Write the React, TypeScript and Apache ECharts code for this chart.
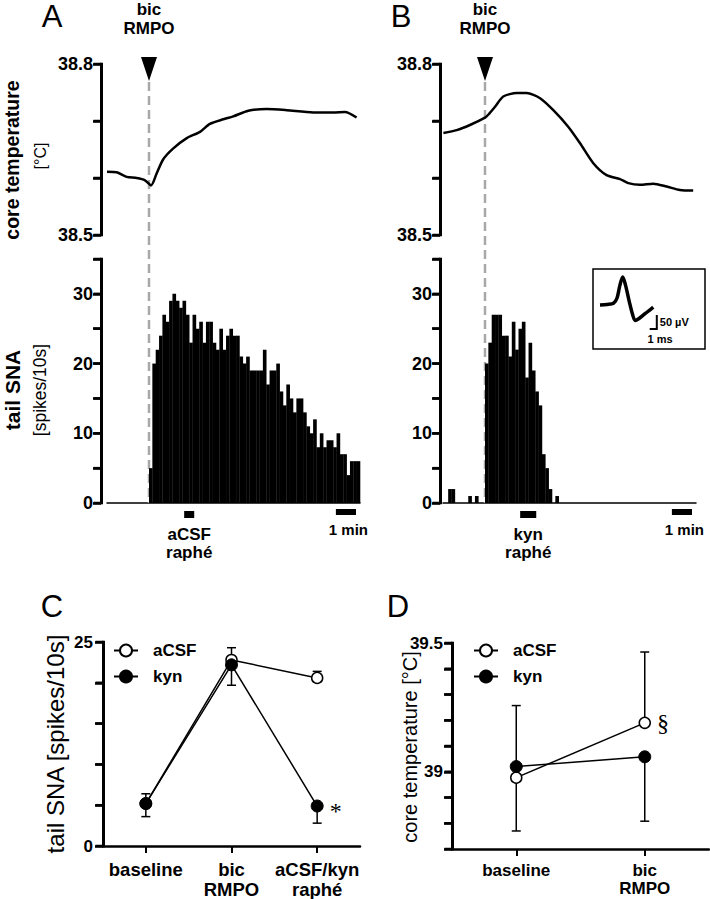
import React, { useEffect, useRef } from "react";
import * as echarts from "echarts";

// ---------- data ----------
const BIN = 1 / 6; // 10-s bins expressed in minutes
const T_MIN = -2.09;
const T_MAX = 10.5;

const histAStart = 0;
const histA = [5, 20, 22, 24, 27, 26, 29, 30, 29, 28, 29, 27, 23, 27, 25, 26, 23, 26, 26, 23, 22, 25, 22, 24, 25, 24, 24, 21, 20, 21, 19, 19, 19, 19, 22, 17, 19, 19, 20, 16, 14, 17, 15, 13, 15, 15, 13, 11, 10, 12, 8, 10, 8, 9, 9, 8, 10, 7, 7, 4, 6, 6, 6];
const histBStart = -12;
const histB = [0, 2, 2, 0, 0, 0, 0, 1, 0, 1, 0, 0, 20, 23, 27, 27, 27, 24, 24, 21, 26, 22, 25, 26, 18, 23, 19, 16, 14, 7, 5, 2, 0, 1];

const tempATime = [-2.09, -1.61, -1.11, -0.61, -0.2, 0.1, 0.38, 0.71, 1.21, 1.88, 2.54, 3.03, 3.7, 4.19, 4.94, 5.86, 6.85, 8.17, 9.17, 9.75, 10.33];
const tempAValue = [38.611, 38.61, 38.602, 38.6, 38.596, 38.587, 38.608, 38.633, 38.652, 38.67, 38.681, 38.695, 38.703, 38.708, 38.718, 38.721, 38.719, 38.715, 38.715, 38.716, 38.706];
const tempBTime = [-2.07, -1.41, -0.75, 0, 0.16, 0.5, 0.91, 1.58, 2.07, 2.74, 3.4, 4.14, 4.73, 5.39, 6.05, 6.72, 7.13, 7.71, 8.37, 9.04, 9.7, 10.36];
const tempBValue = [38.679, 38.684, 38.693, 38.706, 38.711, 38.725, 38.743, 38.749, 38.749, 38.74, 38.719, 38.69, 38.661, 38.626, 38.605, 38.598, 38.591, 38.588, 38.59, 38.585, 38.579, 38.578];

const injA = [1.75, 2.25];
const injB = [1.75, 2.55];
const oneMin = [9.3, 10.3];

const waveTime = [0, 1.0, 1.9, 2.4, 2.8, 3.2, 3.6, 4.1, 4.6, 4.95, 5.5, 6.3, 7.0, 7.5];
const waveVolt = [0, 2, 6, 25, 70, 100, 70, 15, -35, -55, -48, -32, -18, -8];

const tempTicks = ["38.5", "38.8"];
const snaTicks = ["0", "10", "20", "30"];
const snaGroupTicks = ["0", "25"];
const tcTicks = ["39", "39.5"];

const snaCats = ["baseline", "bic\nRMPO", "aCSF/kyn\nraphé"];
const snaACSF = [5.2, 22.8, 20.6];
const snaACSFErr = [1.2, 1.5, 0.8];
const snaKyn = [5.2, 22.2, 4.9];
const snaKynErr = [1.6, 2.5, 2.1];
const snaKynMarks = ["", "", "*"];

const tcCats = ["baseline", "bic\nRMPO"];
const tcACSF = [38.977, 39.19];
const tcACSFErr = [0.28, 0.275];
const tcKyn = [39.02, 39.058];
const tcKynErr = [0.25, 0.25];
const tcACSFMarks = ["", "§"];

// ---------- helpers ----------
const F = "Liberation Sans, Arial, Helvetica, sans-serif";
const SERIF = "Liberation Serif, DejaVu Serif, serif";
const AXIS_W = 3;
const TICK_W = 2.5;
const TICK_LEN = 8;

function yAxisCfg(grid: number, min: number, max: number, interval: number, offset: number, labels: string[], size: number, margin: number) {
  return {
    show: true,
    gridIndex: grid,
    type: "value",
    position: "left",
    min,
    max,
    interval,
    offset,
    axisLine: { show: true, onZero: false, lineStyle: { color: "#000", width: AXIS_W, cap: "butt" } },
    axisTick: { show: true, inside: false, length: TICK_LEN, lineStyle: { color: "#000", width: TICK_W, cap: "butt" } },
    axisLabel: {
      color: "#000",
      fontSize: size,
      fontWeight: "bold",
      fontFamily: F,
      margin,
      formatter: (v: number) => {
        const hit = labels.find((l) => Math.abs(parseFloat(l) - v) < 1e-6);
        return hit === undefined ? "" : hit;
      },
    },
    splitLine: { show: false },
  };
}

function histSeries(xi: number, values: number[], start: number) {
  return {
    type: "custom",
    name: "hist" + xi,
    xAxisIndex: xi,
    yAxisIndex: xi,
    clip: false,
    data: values.map((v, i) => [(start + i) * BIN, v]),
    renderItem: (params: any, api: any) => {
      const t = api.value(0);
      const v = api.value(1);
      if (!v) return null;
      const p0 = api.coord([t, v]);
      const p1 = api.coord([t + BIN, 0]);
      return {
        type: "rect",
        shape: { x: p0[0], y: p0[1], width: p1[0] - p0[0] + 0.3, height: p1[1] - p0[1] },
        style: { fill: "#000" },
      };
    },
    z: 3,
  };
}

function errSeries(name: string, xi: number, means: number[], errs: number[], dir: number) {
  return {
    type: "custom",
    name,
    xAxisIndex: xi,
    yAxisIndex: xi,
    clip: false,
    data: means.map((m, i) => [i, m, m + dir * errs[i]]),
    renderItem: (params: any, api: any) => {
      const p0 = api.coord([api.value(0), api.value(1)]);
      const p1 = api.coord([api.value(0), api.value(2)]);
      return {
        type: "group",
        children: [
          { type: "rect", shape: { x: p0[0] - 0.75, y: Math.min(p0[1], p1[1]), width: 1.5, height: Math.abs(p1[1] - p0[1]) }, style: { fill: "#000" } },
          { type: "line", shape: { x1: p1[0] - 4.5, y1: p1[1], x2: p1[0] + 4.5, y2: p1[1] }, style: { stroke: "#000", lineWidth: 1.5 } },
        ],
      };
    },
    z: 1,
  };
}

function groupLine(name: string, xi: number, values: number[], marks: string[] | null, open: boolean) {
  return {
    type: "line",
    name,
    xAxisIndex: xi,
    yAxisIndex: xi,
    clip: false,
    data: values.map((v, i) =>
      marks && marks[i]
        ? {
            value: v,
            label: {
              show: true,
              position: "right",
              distance: 6,
              formatter: marks[i],
              fontFamily: SERIF,
              fontSize: 24,
              color: "#000",
              offset: [0, marks[i] === "*" ? 5 : 0],
            },
          }
        : v
    ),
    symbol: "circle",
    symbolSize: open ? 11 : 12,
    showSymbol: true,
    lineStyle: { color: "#000", width: 1.5 },
    itemStyle: open ? { color: "#fff", borderColor: "#000", borderWidth: 1.5 } : { color: "#000", borderColor: "#000", borderWidth: 1 },
    z: open ? 2 : 3,
  };
}

function catXAxis(grid: number, data: string[], size: number, margin: number) {
  return {
    gridIndex: grid,
    type: "category",
    data,
    boundaryGap: true,
    axisLine: { show: true, onZero: false, lineStyle: { color: "#000", width: 2.5 } },
    axisTick: { show: true, alignWithLabel: true, length: 7, lineStyle: { color: "#000", width: 2 } },
    axisLabel: { color: "#000", fontSize: size, fontWeight: "bold", fontFamily: F, margin, lineHeight: size + 1, interval: 0 },
    splitLine: { show: false },
  };
}

function legendCfg(left: number) {
  return {
    data: ["aCSF", "kyn"],
    orient: "vertical",
    left,
    top: 642,
    padding: 0,
    itemWidth: 24,
    itemHeight: 15,
    itemGap: 9,
    selectedMode: false,
    textStyle: { color: "#000", fontSize: 17, fontWeight: "bold", fontFamily: F, padding: [0, 0, 0, 10] },
  };
}

function buildOption() {
  const zip = (a: number[], b: number[]) => a.map((v, i) => [v, b[i]]);
  const timeAxisHidden = (g: number) => ({ gridIndex: g, type: "value", min: T_MIN, max: T_MAX, show: false });
  const timeAxisBase = (g: number) => ({
    gridIndex: g,
    type: "value",
    min: T_MIN,
    max: T_MAX,
    axisLine: { show: true, onZero: false, lineStyle: { color: "#000", width: 1.5 } },
    axisTick: { show: false },
    axisLabel: { show: false },
    splitLine: { show: false },
  });
  const grid = (left: number, top: number, width: number, height: number) => ({ left, top, width, height });
  const trace = (name: string, ax: number, t: number[], v: number[], w: number, smooth: number) => ({
    type: "line",
    name,
    xAxisIndex: ax,
    yAxisIndex: ax,
    clip: false,
    data: zip(t, v),
    symbol: "none",
    smooth,
    lineStyle: { color: "#000", width: w },
  });
  return {
    animation: false,
    textStyle: { fontFamily: F, color: "#000" },
    grid: [
      grid(107, 64, 253, 171),
      grid(107, 259, 253, 244),
      grid(443, 64, 253, 171),
      grid(443, 259, 253, 244),
      grid(600, 274.2, 56.8, 56),
      grid(103, 642, 257, 204),
      grid(452, 643, 257, 206),
    ],
    xAxis: [
      timeAxisHidden(0),
      timeAxisBase(1),
      timeAxisHidden(2),
      timeAxisBase(3),
      { gridIndex: 4, type: "value", min: 0, max: 8, show: false },
      catXAxis(5, snaCats, 18.5, 14),
      catXAxis(6, tcCats, 17, 12),
    ],
    yAxis: [
      yAxisCfg(0, 38.5, 38.8, 0.1, 6, tempTicks, 18, 8),
      yAxisCfg(1, 0, 35, 5, 6, snaTicks, 18, 8),
      yAxisCfg(2, 38.5, 38.8, 0.1, 3, tempTicks, 18, 8),
      yAxisCfg(3, 0, 35, 5, 3, snaTicks, 18, 8),
      { gridIndex: 4, type: "value", min: -90, max: 110, show: false },
      yAxisCfg(5, 0, 25, 5, 0, snaGroupTicks, 17, 10),
      yAxisCfg(6, 38.7, 39.5, 0.1, 0, tcTicks, 17, 9),
    ],
    legend: [legendCfg(113), legendCfg(473)],
    series: [
      trace("tempA", 0, tempATime, tempAValue, 2.5, 0.25),
      histSeries(1, histA, histAStart),
      trace("tempB", 2, tempBTime, tempBValue, 2.5, 0.25),
      histSeries(3, histB, histBStart),
      trace("spike", 4, waveTime, waveVolt, 3.5, 0.3),
      errSeries("errC_aCSF", 5, snaACSF, snaACSFErr, 1),
      errSeries("errC_kyn", 5, snaKyn, snaKynErr, -1),
      groupLine("aCSF", 5, snaACSF, null, true),
      groupLine("kyn", 5, snaKyn, snaKynMarks, false),
      errSeries("errD_aCSF", 6, tcACSF, tcACSFErr, 1),
      errSeries("errD_kyn", 6, tcKyn, tcKynErr, -1),
      groupLine("aCSF", 6, tcACSF, tcACSFMarks, true),
      groupLine("kyn", 6, tcKyn, null, false),
    ],
  };
}

function text(t: string, x: number, y: number, size: number, weight: string, extra: any = {}) {
  return {
    type: "text",
    x,
    y,
    rotation: extra.rotation || 0,
    silent: true,
    z: 10,
    style: {
      text: t,
      fontSize: size,
      fontWeight: weight,
      fontFamily: extra.family || F,
      fill: "#000",
      align: extra.align || "center",
      verticalAlign: "middle",
      lineHeight: extra.lineHeight,
    },
  };
}

function buildGraphics(chart: any, option: any) {
  const px = (axis: number, t: number) => chart.convertToPixel({ xAxisIndex: axis }, t) as number;
  const g: any[] = [];

  // reinforce the value-axis spines (as filled bars) and ticks, at the axes' own positions
  option.yAxis.forEach((ya: any, i: number) => {
    if (ya.show === false || !ya.axisLine) return;
    const rect = chart.getModel().getComponent("grid", ya.gridIndex).coordinateSystem.getRect();
    const x = rect.x - (ya.offset || 0) + 0.5;
    const yTop = chart.convertToPixel({ yAxisIndex: i }, ya.max) as number;
    const yBot = chart.convertToPixel({ yAxisIndex: i }, ya.min) as number;
    g.push({ type: "rect", silent: true, z: 20, shape: { x: x - AXIS_W / 2, y: yTop - TICK_W / 2, width: AXIS_W, height: yBot - yTop + TICK_W }, style: { fill: "#000" } });
    const n = Math.round((ya.max - ya.min) / ya.interval);
    for (let k = 0; k <= n; k++) {
      const yy = chart.convertToPixel({ yAxisIndex: i }, ya.min + k * ya.interval) as number;
      g.push({ type: "rect", silent: true, z: 20, shape: { x: x - TICK_LEN, y: yy - TICK_W / 2, width: TICK_LEN, height: TICK_W }, style: { fill: "#000" } });
    }
  });

  const panels = [
    { x0: px(0, 0), base: chart.convertToPixel({ yAxisIndex: 1 }, 0) as number, inj: injA, injAxis: 1, label: "aCSF\nraphé" },
    { x0: px(2, 0), base: chart.convertToPixel({ yAxisIndex: 3 }, 0) as number, inj: injB, injAxis: 3, label: "kyn\nraphé" },
  ];
  panels.forEach((p) => {
    g.push({ type: "line", silent: true, z: 2, shape: { x1: p.x0, y1: 82, x2: p.x0, y2: p.base }, style: { stroke: "#a8a8a8", lineWidth: 2.5, lineDash: [9, 5] } });
    g.push({ type: "polygon", silent: true, z: 10, shape: { points: [[p.x0 - 8, 57], [p.x0 + 8, 57], [p.x0, 81]] }, style: { fill: "#000" } });
    g.push(text("bic\nRMPO", p.x0, 18.5, 17, "bold", { lineHeight: 19 }));
    const i0 = px(p.injAxis, p.inj[0]);
    const i1 = px(p.injAxis, p.inj[1]);
    g.push({ type: "rect", silent: true, z: 10, shape: { x: i0, y: 511, width: i1 - i0, height: 7 }, style: { fill: "#000" } });
    g.push(text(p.label, (i0 + i1) / 2, 543.5, 17, "bold", { lineHeight: 18 }));
    const m0 = px(p.injAxis, oneMin[0]);
    const m1 = px(p.injAxis, oneMin[1]);
    g.push({ type: "rect", silent: true, z: 10, shape: { x: m0, y: 509, width: m1 - m0, height: 6 }, style: { fill: "#000" } });
    g.push(text("1 min", m1 + 12, 529, 15, "bold", { align: "right" }));
  });

  g.push(text("A", 52, 16, 31, "normal"));
  g.push(text("B", 401, 16, 31, "normal"));
  g.push(text("C", 52, 606, 31, "normal"));
  g.push(text("D", 398, 606, 31, "normal"));

  const rot = Math.PI / 2;
  g.push(text("core temperature", 12, 160, 19.5, "bold", { rotation: rot }));
  g.push(text("[°C]", 40, 156, 16, "normal", { rotation: rot }));
  g.push(text("tail SNA", 12, 390, 21, "bold", { rotation: rot }));
  g.push(text("[spikes/10s]", 40, 390, 17.5, "normal", { rotation: rot }));
  g.push(text("tail SNA [spikes/10s]", 55, 744, 24, "normal", { rotation: rot }));
  g.push(text("core temperature [°C]", 410, 747, 20, "normal", { rotation: rot }));

  g.push({ type: "rect", silent: true, z: 1, shape: { x: 593, y: 269, width: 112, height: 80 }, style: { fill: "none", stroke: "#000", lineWidth: 1.5 } });
  const top = chart.convertToPixel({ gridIndex: 4 }, [8.0, -36]);
  const corner = chart.convertToPixel({ gridIndex: 4 }, [8.0, -86]);
  const left = chart.convertToPixel({ gridIndex: 4 }, [7.0, -86]);
  g.push({ type: "polyline", silent: true, z: 10, shape: { points: [top, corner, left] }, style: { stroke: "#000", lineWidth: 2, fill: "none" } });
  g.push(text("50 µV", corner[0] + 3, 322, 11, "bold", { align: "left" }));
  g.push(text("1 ms", 660, 339, 11, "bold"));
  return g;
}

export default function App() {
  const ref = useRef<HTMLDivElement>(null);
  useEffect(() => {
    const base = buildOption();
    // measure annotation positions with a throw-away instance of the same layout
    const probe = echarts.init(document.createElement("div"), null, { renderer: "svg", width: 710, height: 899 });
    probe.setOption(base as any);
    const graphic = buildGraphics(probe, base);
    probe.dispose();

    const chart = echarts.init(ref.current!, null, { renderer: "svg" });
    chart.setOption({ ...base, graphic } as any);
    return () => chart.dispose();
  }, []);
  return <div ref={ref} style={{ position: "absolute", left: 0, top: 0, width: 710, height: 899, background: "#fff" }} />;
}
